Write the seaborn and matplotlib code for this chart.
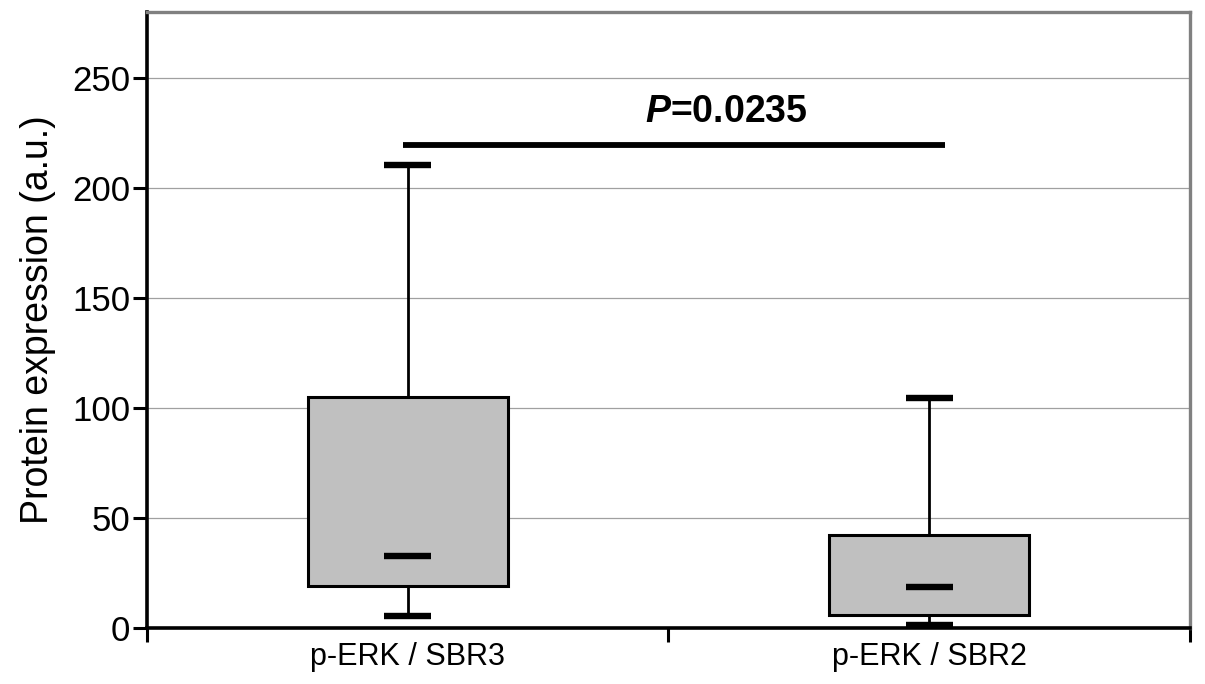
import numpy as np
import pandas as pd
import matplotlib
matplotlib.use("Agg")
import matplotlib.pyplot as plt
import seaborn as sns
from matplotlib.ticker import FixedLocator

# values: min, Q1, median, Q3, max per group
groups = ["p-ERK / SBR3", "p-ERK / SBR2"]
sbr3_values = [5.5, 19.0, 32.7, 105.0, 210.5]
sbr2_values = [1.4, 5.9, 18.6, 42.3, 104.5]
y_ticks = [0, 50, 100, 150, 200, 250]
p_label = r"$\mathbfit{P}$=0.0235"
sig_y = 219.5
sig_x = [-0.01, 1.03]

df = pd.DataFrame({
    "group": [groups[0]] * len(sbr3_values) + [groups[1]] * len(sbr2_values),
    "value": sbr3_values + sbr2_values,
})

sns.set_style("white")
plt.rcParams["font.family"] = ["Liberation Sans", "DejaVu Sans"]
plt.rcParams["mathtext.fontset"] = "custom"
plt.rcParams["mathtext.bfit"] = "Liberation Sans:italic:bold"
plt.rcParams["mathtext.rm"] = "Liberation Sans:bold"
for key in ["text.color", "axes.labelcolor", "xtick.color", "ytick.color"]:
    plt.rcParams[key] = "black"

fig = plt.figure(figsize=(12.05, 6.84), dpi=100)
ax = fig.add_axes([0.122, 0.082, 0.8655, 0.9005])

sns.boxplot(data=df, x="group", y="value", ax=ax, order=groups,
            whis=np.inf, width=0.383, color="#c0c0c0", saturation=1,
            linecolor="black", linewidth=2,
            boxprops=dict(facecolor="#c0c0c0", edgecolor="black", linewidth=2.2),
            whiskerprops=dict(color="black", linewidth=2),
            capprops=dict(color="black", linewidth=4.6, solid_capstyle="butt"),
            medianprops=dict(color="black", linewidth=4.6, solid_capstyle="butt"))

# caps and medians are short bars in the original
for ln in ax.lines:
    xd = np.asarray(ln.get_xdata(), dtype=float)
    yd = np.asarray(ln.get_ydata(), dtype=float)
    if len(xd) == 2 and yd[0] == yd[1] and xd[0] != xd[1]:
        c = xd.mean()
        ln.set_xdata([c - 0.045, c + 0.045])
        ln.set_linewidth(4.6)
        ln.set_zorder(5)

ax.plot(sig_x, [sig_y, sig_y], color="black", lw=4.2, solid_capstyle="butt")
ax.text(0.61, 226.5, p_label, ha="center", va="bottom",
        fontsize=27, fontweight="bold")

ax.set_xlim(-0.5, 1.5)
ax.set_ylim(0, 280)
ax.set_yticks(y_ticks)
ax.set_yticklabels([str(t) for t in y_ticks])
ax.tick_params(axis="y", labelsize=25, length=10, width=2.2, direction="out",
               left=True, pad=2)
ax.tick_params(axis="x", which="major", labelsize=22, length=0, pad=10)
ax.xaxis.set_minor_locator(FixedLocator([-0.5, 0.5, 1.5]))
ax.tick_params(axis="x", which="minor", length=10, width=2.2, direction="out",
               bottom=True)

ax.yaxis.grid(True, color="#a0a0a0", linewidth=0.9)
ax.set_axisbelow(True)
ax.set_xlabel("")
ax.set_ylabel("Protein expression (a.u.)", fontsize=27, labelpad=12)

for side in ["left", "bottom"]:
    ax.spines[side].set_color("black")
    ax.spines[side].set_linewidth(2.6)
for side in ["top", "right"]:
    ax.spines[side].set_visible(True)
    ax.spines[side].set_color("#808080")
    ax.spines[side].set_linewidth(2.4)

fig.savefig("out.png", dpi=100)
